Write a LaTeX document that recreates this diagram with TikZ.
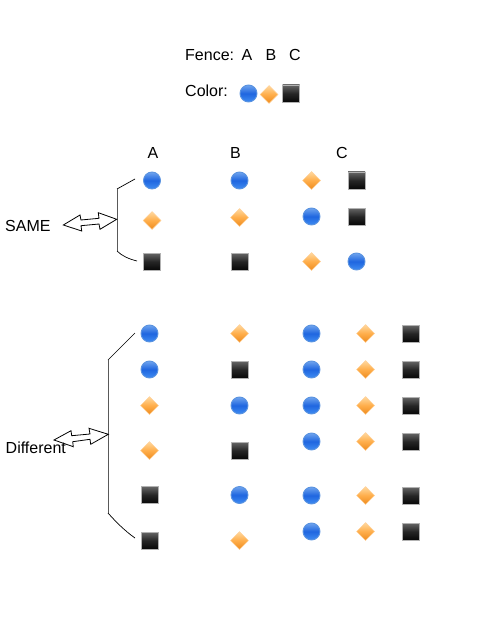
\documentclass[tikz,border=0pt]{standalone}
\usepackage{fontspec}
\setmainfont{Liberation Sans}
\usetikzlibrary{shapes.geometric}
\definecolor{blueedge}{HTML}{5A93E0}
\definecolor{bluetop}{HTML}{6FA4EE}
\definecolor{bluemid}{HTML}{1F66E0}
\definecolor{bluebot}{HTML}{3F8CF2}
\definecolor{gemtop}{HTML}{FFD9A0}
\definecolor{gemmid}{HTML}{FFAE4A}
\definecolor{gembot}{HTML}{EE8A1E}
\begin{document}
\begin{tikzpicture}[x=1pt,y=-1pt,
  txt/.style={inner sep=0pt,font=\fontsize{16}{19}\selectfont,anchor=base west,text=black},
  coltxt/.style={inner sep=0pt,font=\fontsize{16}{19}\selectfont,anchor=base,text=black},
  bluedot/.style={circle,minimum size=17pt,inner sep=0pt,draw=blueedge,line width=0.9pt,
    shading=axis,top color=bluetop,bottom color=bluebot,middle color=bluemid},
  orangegem/.style={diamond,aspect=1,minimum size=18pt,inner sep=0pt,draw=gemmid!60!white,line width=0.5pt,
    shading=axis,top color=gemtop,bottom color=gembot,middle color=gemmid},
  blacksq/.style={rectangle,minimum size=17pt,inner sep=0pt,draw=black!30,line width=0.9pt,
    shading=axis,top color=black!60,bottom color=black!97,middle color=black!85},
  wire/.style={draw=black,line width=0.7pt},
  spine/.style={draw=black!65,line width=1pt},
  dblarrow/.style={draw=black,line width=0.8pt,fill=white,line join=miter}]
\useasboundingbox (0,0) rectangle (499,631);

% legend
\node[txt] (fence) at (185,60.5) {Fence:};
\node[coltxt] (la) at (247,60.5) {A};
\node[coltxt] (lb) at (271,60.5) {B};
\node[coltxt] (lc) at (295,60.5) {C};
\node[txt] (color) at (185,96.5) {Color:};
\node[bluedot] (lgc) at (248.5,93.5) {};
\node[orangegem] (lgd) at (269,94.5) {};
\node[blacksq] (lgs) at (291,93.5) {};

% column heads
\node[coltxt] (ha) at (153,158.5) {A};
\node[coltxt] (hb) at (235.5,158.5) {B};
\node[coltxt] (hc) at (342,158.5) {C};

% SAME block
\node[bluedot] (s1a) at (152,180.5) {};
\node[orangegem] (s2a) at (152,220.5) {};
\node[blacksq] (s3a) at (152,261.5) {};
\node[bluedot] (s1b) at (239.5,180.5) {};
\node[orangegem] (s2b) at (239.5,217.5) {};
\node[blacksq] (s3b) at (239.5,261.5) {};
\node[orangegem] (s1c) at (311.5,180.5) {};
\node[blacksq] (s1d) at (356.5,180.5) {};
\node[bluedot] (s2c) at (311.5,216.5) {};
\node[blacksq] (s2d) at (356.5,216.5) {};
\node[orangegem] (s3c) at (311.5,261.5) {};
\node[bluedot] (s3d) at (356.5,261.5) {};

% Different block
\foreach \nm/\yy/\sa/\sb in {1/333.5/bluedot/orangegem,2/369.5/bluedot/blacksq,3/405.5/orangegem/bluedot,
    4/450.5/orangegem/blacksq,5/495/blacksq/bluedot,6/540.5/blacksq/orangegem}{
  \node[\sa] (d\nm a) at (149.5,\yy) {};
  \node[\sb] (d\nm b) at (239.5,\yy) {};
}
\foreach \nm/\yy in {1/333.5,2/369.5,3/405.5,4/441.5,5/495.5,6/531.5}{
  \node[bluedot] (d\nm c) at (311.5,\yy) {};
  \node[orangegem] (d\nm d) at (365.5,\yy) {};
  \node[blacksq] (d\nm e) at (410.5,\yy) {};
}

% SAME brace
\coordinate (sbt) at (135,179);
\coordinate (sb1) at (117,189);
\coordinate (sb2) at (117,251);
\coordinate (sbb) at (137,261);
\draw[wire] (sbt) -- (sb1);
\draw[spine] (sb1) -- (sb2);
\draw[wire] (sb2) .. controls (122,256) and (129,259) .. (sbb);

% Different brace
\coordinate (dbt) at (135,333);
\coordinate (db1) at (108,360);
\coordinate (db2) at (108,513);
\coordinate (dbb) at (135,538);
\draw[wire] (dbt) -- (db1);
\draw[spine] (db1) -- (db2);
\draw[wire] (db2) .. controls (116,522) and (125,531) .. (dbb);

% labels
\node[txt] (same) at (5,231) {SAME};
\node[txt] (diff) at (5.5,453) {Different};

% double arrows
\draw[dblarrow] (63.3,225) -- (80,215) -- (81,220) -- (99,218.3) -- (98.3,212.7) -- (116.7,219.3)
  -- (100,229.3) -- (99,224) -- (81,225.7) -- (81.7,231) -- cycle;
\draw[dblarrow,fill=none] (54,440) -- (71,430.7) -- (71.7,435.7) -- (90,434) -- (89,428.3) -- (108.3,434.3)
  -- (90.7,444.3) -- (90,439.3) -- (72.7,441.7) -- (73.3,446.7) -- cycle;
\end{tikzpicture}
\end{document}
